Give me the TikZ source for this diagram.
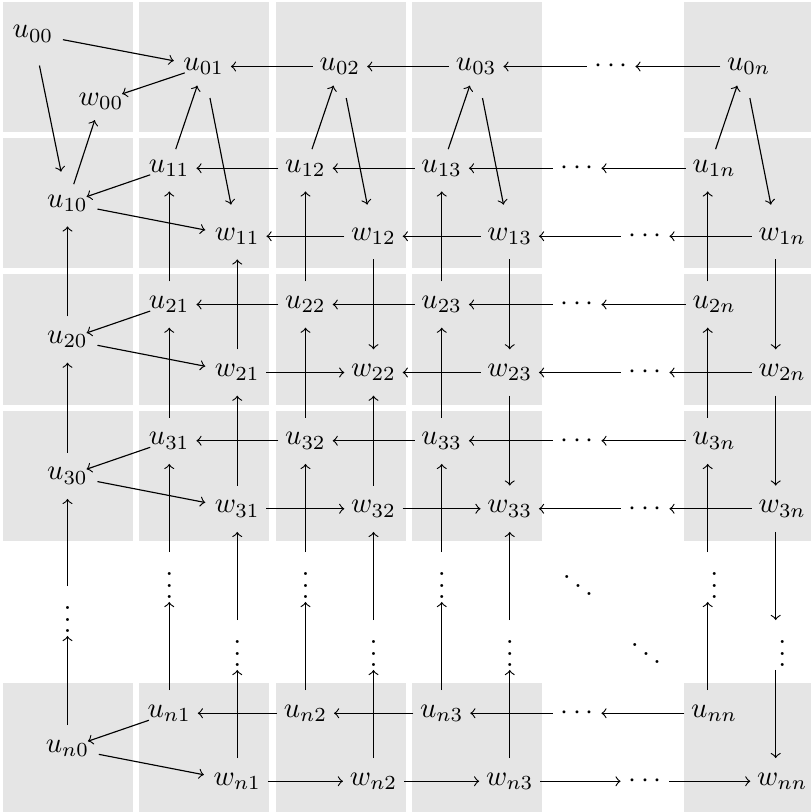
\documentclass[tikz,border=0pt]{standalone}
\begin{document}
\begin{tikzpicture}[x=0.35pt,y=-0.35pt,
  varnode/.style={inner xsep=2.2pt, inner ysep=5pt},
  dotsh/.style={inner xsep=2.5pt, inner ysep=3pt},
  dotsv/.style={inner sep=1pt},
  shA/.style={shorten <=-3pt, shorten >=-3pt},
  shB/.style={shorten <=1pt, shorten >=1pt},
  shC/.style={shorten <=-1.5pt, shorten >=-1.5pt},
  shD/.style={shorten <=3pt, shorten >=3pt},
  colnd/.style={transform canvas={xshift=-1.8pt}},
  colnv/.style={transform canvas={xshift=-2.3pt}},
  cell/.style={fill=black!10}]
\useasboundingbox (0,0) rectangle (811,812);
% gray cells
\foreach \c in {0,1,2,3,5}
  \foreach \r in {0,1,2,3,5}
    \fill[cell] (3+136.25*\c, 2+136.25*\r) rectangle ++(130,130);
% row 0
\node[varnode] (u00) at (33,34) {$u_{00}$};
\node[varnode] (w00) at (101,101) {$w_{00}$};
\foreach \j/\c in {1/1,2/2,3/3,n/5}
  \node[varnode] (u0\j) at (67.5+136.25*\c, 66.5) {$u_{0\j}$};
\node[dotsh] (c0) at (611,66.5) {$\cdots$};
% rows 1,2,3,n
\foreach \i/\r in {1/1,2/2,3/3,n/5} {
  \node[varnode] (u\i0) at (67.5, 67+136.25*\r) {$u_{\i0}$};
  \foreach \j/\c in {1/1,2/2,3/3,n/5} {
    \node[varnode] (u\i\j) at (33+136.25*\c, 32+136.25*\r) {$u_{\i\j}$};
    \node[varnode] (w\i\j) at (101+136.25*\c, 100+136.25*\r) {$w_{\i\j}$};
  }
  \node[dotsh] (cu\i) at (577, 32+136.25*\r) {$\cdots$};
  \node[dotsh] (cw\i) at (645, 100+136.25*\r) {$\cdots$};
}
% dots row
\node[dotsv] (vd0) at (67.5, 611) {$\vdots$};
\foreach \j/\c in {1/1,2/2,3/3,n/5} {
  \node[dotsv] (vu\j) at (33+136.25*\c, 577) {$\vdots$};
  \node[dotsv] (vw\j) at (101+136.25*\c, 645) {$\vdots$};
}
\node[dotsv] (dd1) at (578, 577) {$\ddots$};
\node[dotsv] (dd2) at (646, 645) {$\ddots$};
% row 0 edges
\draw[->, shB] (u00) -- (u01);
\draw[->, shD] (u00) -- (u10);
\draw[->, shA] (u01) -- (w00);
\draw[->, shC] (u10) -- (w00);
\draw[->] (u02) -- (u01);
\draw[->] (u03) -- (u02);
\draw[->] (c0) -- (u03);
\draw[->] (u0n) -- (c0);
\foreach \j in {1,2,3} {
  \draw[->, shC] (u1\j) -- (u0\j);
  \draw[->, shD] (u0\j) -- (w1\j);
}
\draw[->, shC, colnd] (u1n) -- (u0n);
\draw[->, shD, colnd] (u0n) -- (w1n);
% u rows
\foreach \i in {1,2,3,n} {
  \draw[->, shA] (u\i1) -- (u\i0);
  \draw[->, shB] (u\i0) -- (w\i1);
  \draw[->] (u\i2) -- (u\i1);
  \draw[->] (u\i3) -- (u\i2);
  \draw[->] (cu\i) -- (u\i3);
  \draw[->] (u\i n) -- (cu\i);
}
% u columns
\draw[->] (u20) -- (u10);
\draw[->] (u30) -- (u20);
\draw[->] (vd0) -- (u30);
\draw[->] (un0) -- (vd0);
\foreach \j in {1,2,3} {
  \draw[->] (u2\j) -- (u1\j);
  \draw[->] (u3\j) -- (u2\j);
  \draw[->] (vu\j) -- (u3\j);
  \draw[->] (un\j) -- (vu\j);
}
\draw[->, colnv] (u2n) -- (u1n);
\draw[->, colnv] (u3n) -- (u2n);
\draw[->, colnv] (vun) -- (u3n);
\draw[->, colnv] (unn) -- (vun);
% w rows
\draw[->] (w12) -- (w11);
\draw[->] (w13) -- (w12);
\draw[->] (cw1) -- (w13);
\draw[->] (w1n) -- (cw1);
\draw[->] (w21) -- (w22);
\draw[->] (w23) -- (w22);
\draw[->] (cw2) -- (w23);
\draw[->] (w2n) -- (cw2);
\draw[->] (w31) -- (w32);
\draw[->] (w32) -- (w33);
\draw[->] (cw3) -- (w33);
\draw[->] (w3n) -- (cw3);
\draw[->] (wn1) -- (wn2);
\draw[->] (wn2) -- (wn3);
\draw[->] (wn3) -- (cwn);
\draw[->] (cwn) -- (wnn);
% w columns
\draw[->] (w21) -- (w11);
\draw[->] (w31) -- (w21);
\draw[->] (vw1) -- (w31);
\draw[->] (wn1) -- (vw1);
\draw[->] (w12) -- (w22);
\draw[->] (w32) -- (w22);
\draw[->] (vw2) -- (w32);
\draw[->] (wn2) -- (vw2);
\draw[->] (w13) -- (w23);
\draw[->] (w23) -- (w33);
\draw[->] (vw3) -- (w33);
\draw[->] (wn3) -- (vw3);
\draw[->, colnv] (w1n) -- (w2n);
\draw[->, colnv] (w2n) -- (w3n);
\draw[->, colnv] (w3n) -- (vwn);
\draw[->, colnv] (vwn) -- (wnn);
\end{tikzpicture}
\end{document}
